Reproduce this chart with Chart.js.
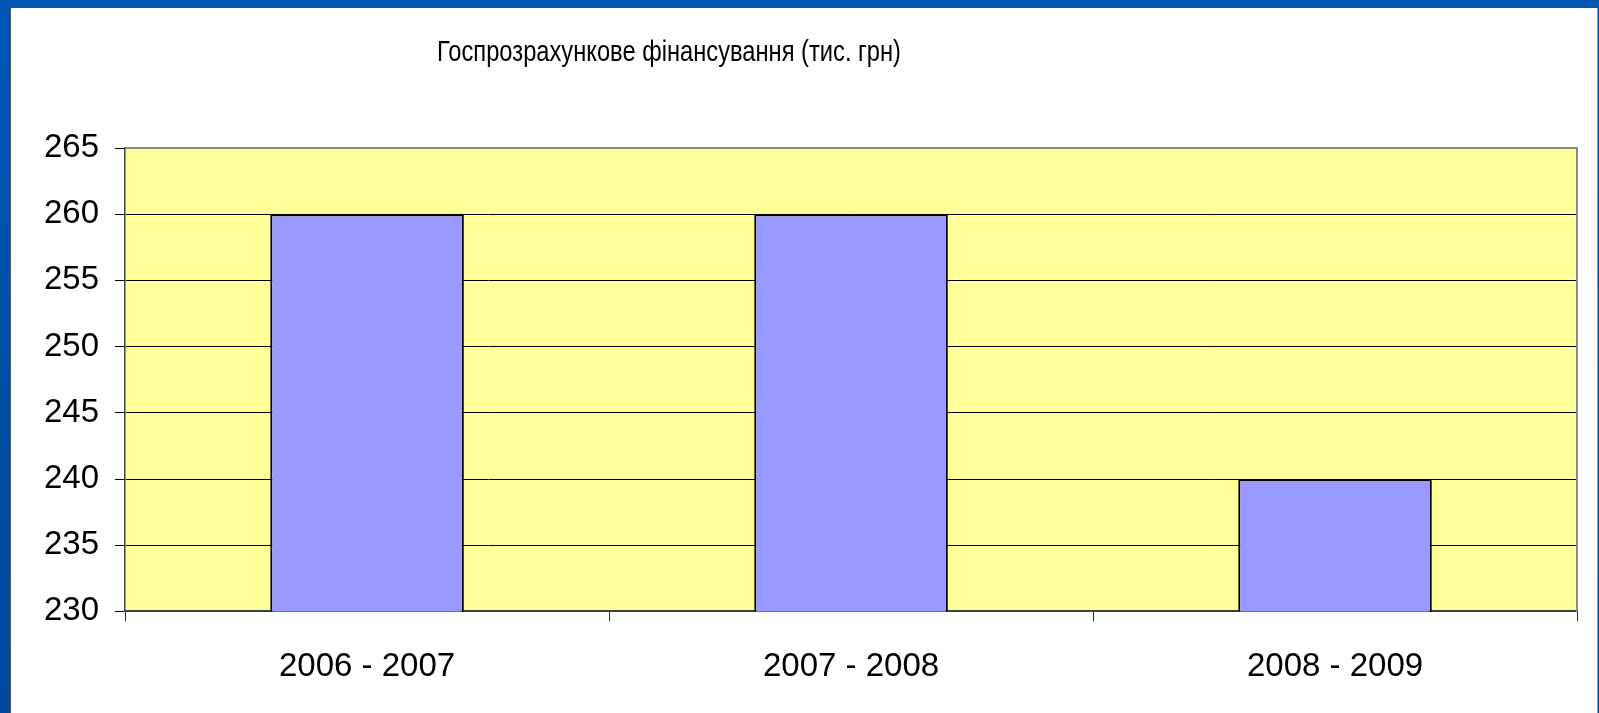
<!DOCTYPE html>
<html lang="uk">
<head>
    <meta charset="UTF-8">
    <title>Госпрозрахункове фінансування</title>
    <script src="https://cdn.jsdelivr.net/npm/chart.js"></script>
    <style>
        body {
            margin: 0;
            width: 1599px;
            height: 713px;
            overflow: hidden;
            background: linear-gradient(#0056b4, #00489c);
        }
        #panel {
            position: absolute;
            left: 10px;
            top: 8px;
            width: 1586px;
            height: 705px;
            background: #fff;
            border-left: 1px solid #555;
            border-right: 1px solid #999;
        }
        #title {
            position: absolute;
            left: 358px;
            width: 600px;
            top: 26px;
            text-align: center;
            font-family: "Liberation Sans", sans-serif;
            font-size: 30px;
            color: #000;
            transform: scaleX(0.79);
            transform-origin: center;
            white-space: nowrap;
        }
        #wrap {
            position: absolute;
            left: 0;
            top: 0;
            width: 1586px;
            height: 705px;
        }
    </style>
</head>
<body>
<div id="panel">
    <div id="wrap"><canvas id="myChart"></canvas></div>
    <div id="title">Госпрозрахункове фінансування (тис. грн)</div>
</div>
<script>
    const periods = ['2006 - 2007', '2007 - 2008', '2008 - 2009'];
    const funding = [260, 260, 240];
    const yMin = 230, yMax = 265, yStep = 5;

    // жовте тло області побудови і сіра рамка
    const plotArea = {
        id: 'plotArea',
        beforeDraw(chart) {
            const { ctx, chartArea: a } = chart;
            ctx.save();
            ctx.fillStyle = '#ffff99';
            ctx.fillRect(a.left, a.top, a.right - a.left, a.bottom - a.top);
            ctx.restore();
        },
        afterDraw(chart) {
            const { ctx, chartArea: a } = chart;
            ctx.save();
            ctx.strokeStyle = '#8a8a80';
            ctx.lineWidth = 2;
            ctx.beginPath();
            ctx.moveTo(a.left, a.top);
            ctx.lineTo(a.right, a.top);
            ctx.lineTo(a.right, a.bottom);
            ctx.stroke();
            ctx.restore();
        }
    };

    const ctx = document.getElementById('myChart').getContext('2d');
    new Chart(ctx, {
        type: 'bar',
        data: {
            labels: periods,
            datasets: [{
                data: funding,
                backgroundColor: '#9999ff',
                borderColor: '#000',
                borderWidth: 2,
                barPercentage: 0.4,
                categoryPercentage: 1
            }]
        },
        options: {
            responsive: true,
            maintainAspectRatio: false,
            animation: false,
            layout: { padding: { left: 17, right: 20, top: 140, bottom: 0 } },
            plugins: {
                legend: { display: false },
                title: { display: false },
                tooltip: { enabled: false }
            },
            scales: {
                x: {
                    offset: true,
                    grid: {
                        offset: true,
                        drawOnChartArea: false,
                        tickLength: 10,
                        color: '#333'
                    },
                    border: { color: '#404040', width: 2 },
                    ticks: {
                        color: '#000',
                        padding: 26,
                        font: { family: 'Liberation Sans, Arial, sans-serif', size: 33 }
                    }
                },
                y: {
                    min: yMin,
                    max: yMax,
                    grid: { color: '#000', lineWidth: 1, tickLength: 10 },
                    border: { color: '#404040', width: 1.5 },
                    ticks: {
                        stepSize: yStep,
                        color: '#000',
                        padding: 16,
                        font: { family: 'Liberation Sans, Arial, sans-serif', size: 33 }
                    }
                }
            }
        },
        plugins: [plotArea]
    });
</script>
</body>
</html>
